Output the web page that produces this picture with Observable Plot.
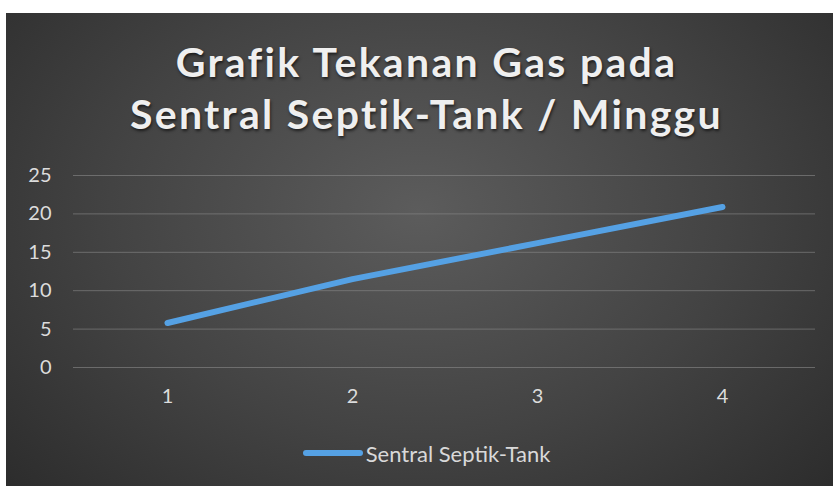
<!DOCTYPE html>
<html>
<head>
<meta charset="utf-8">
<script src="https://cdn.jsdelivr.net/npm/d3@7"></script>
<script src="https://cdn.jsdelivr.net/npm/@observablehq/plot@0.6"></script>
<style>
  html, body { margin: 0; padding: 0; background: #ffffff; }
  #chart {
    position: absolute; left: 6px; top: 13px; width: 827px; height: 473px;
    background: radial-gradient(ellipse 75% 95% at 50% 42%, #5c5c5c 0%, #434343 50%, #272727 100%);
    font-family: Lato, "Open Sans", sans-serif;
    overflow: hidden;
  }
  #title {
    height: 137px; box-sizing: border-box; padding-top: 23px;
    text-align: center; color: #efefef; font-weight: bold; font-size: 41px; line-height: 52px;
    letter-spacing: 2.3px; text-shadow: 1px 2px 3px rgba(0,0,0,0.6);
    padding-left: 14px;
  }
  #plot svg { display: block; background: transparent; }
  #legend {
    height: 66px; display: flex; align-items: center; justify-content: center;
    color: #d9d9d9; font-size: 22px; padding-left: 14px;
  }
  #legend .sw { width: 60px; height: 6px; border-radius: 3px; margin-right: 3px; }
  #plot path[stroke] { filter: drop-shadow(1px 2px 2px rgba(0,0,0,0.45)); }
</style>
</head>
<body>
<div id="chart">
  <div id="title"></div>
  <div id="plot"></div>
  <div id="legend"></div>
</div>
<script>
const titleLines = ["Grafik Tekanan Gas pada", "Sentral Septik-Tank / Minggu"];
const weeks = [1, 2, 3, 4];
const pressure = [5.8, 11.5, 16.2, 20.9];
const yTicks = [0, 5, 10, 15, 20, 25];
const seriesName = "Sentral Septik-Tank";
const lineColor = "#55a1e4";

const data = weeks.map((w, i) => ({week: w, value: pressure[i]}));

document.getElementById("title").innerHTML = titleLines.map(t => `<div>${t}</div>`).join("");

const chart = Plot.plot({
  width: 827,
  height: 270,
  marginLeft: 67,
  marginRight: 18,
  marginTop: 25,
  marginBottom: 53,
  style: {background: "transparent", fontFamily: "Lato, 'Open Sans', sans-serif", fontSize: "20px", color: "#dcdcdc"},
  x: {type: "point", domain: weeks, padding: 0.5, label: null, tickSize: 0, tickPadding: 21},
  y: {domain: [0, 25], ticks: yTicks, label: null, tickSize: 0, tickPadding: 22},
  marks: [
    Plot.ruleY(yTicks, {stroke: "#8a8a8a", strokeOpacity: 0.6, strokeWidth: 1}),
    Plot.line(data, {x: "week", y: "value", stroke: lineColor, strokeWidth: 6, strokeLinecap: "round", strokeLinejoin: "round"})
  ]
});
document.getElementById("plot").appendChild(chart);

document.getElementById("legend").innerHTML =
  `<div class="sw" style="background:${lineColor}"></div><span>${seriesName}</span>`;
</script>
</body>
</html>
